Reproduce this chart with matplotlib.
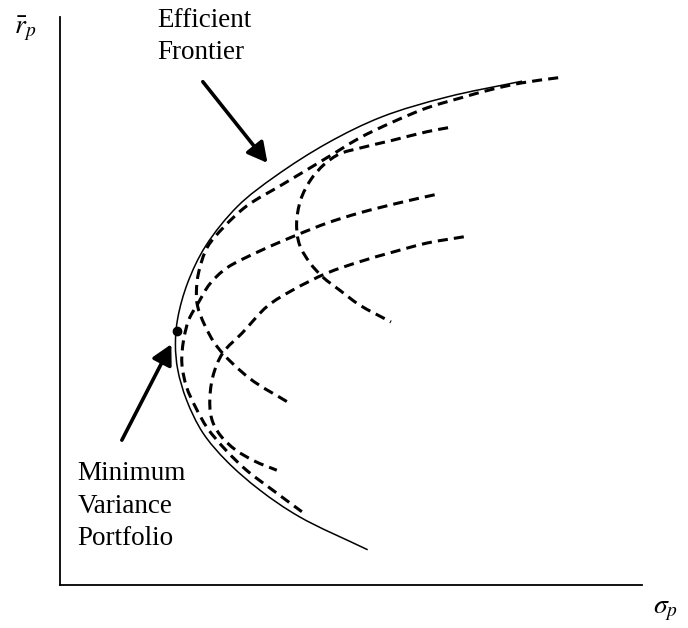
import matplotlib.pyplot as plt
import numpy as np
from matplotlib.path import Path
from matplotlib.patches import PathPatch

plt.rcParams['font.family'] = ['Liberation Serif', 'DejaVu Serif']
plt.rcParams['mathtext.fontset'] = 'stix'

# efficient frontier (solid): risk sigma_p, expected return r_p
frontier_sigma = [7.94, 6.65, 5.53, 4.60, 3.71, 3.06, 2.51, 2.20, 2.03, 1.99,
                  2.03, 2.18, 2.46, 2.87, 3.44, 4.12, 5.29]
frontier_ret = [8.87, 8.59, 8.24, 7.78, 7.20, 6.67, 5.97, 5.32, 4.70, 4.23,
                3.79, 3.26, 2.68, 2.18, 1.67, 1.20, 0.62]

# minimum variance portfolio
mvp_sigma = 2.01
mvp_ret = 4.47

# frontiers of smaller asset sets (dashed)
set_a_sigma = [8.56, 7.94, 7.44, 6.87, 6.31, 5.72, 5.15, 4.78, 4.33, 3.81,
               3.21, 2.82, 2.54, 2.39, 2.35, 2.37, 2.49, 2.71, 3.26, 3.95]
set_a_ret = [8.93, 8.84, 8.73, 8.57, 8.40, 8.15, 7.87, 7.64, 7.36, 7.04,
             6.67, 6.30, 5.95, 5.51, 5.16, 4.91, 4.58, 4.19, 3.64, 3.20]

set_b_sigma = [6.67, 6.31, 5.72, 5.15, 4.81, 4.55, 4.31, 4.14, 4.07, 4.12,
               4.30, 4.52, 4.81, 5.15, 5.69]
set_b_ret = [8.05, 7.98, 7.83, 7.69, 7.59, 7.41, 7.13, 6.78, 6.36, 5.99,
             5.67, 5.42, 5.19, 4.93, 4.63]

set_c_sigma = [6.44, 5.84, 5.15, 4.59, 4.07, 3.44, 2.87, 2.58, 2.39, 2.22,
               2.13, 2.10, 2.18, 2.34, 2.54, 2.85, 3.21, 3.66, 4.16]
set_c_ret = [6.87, 6.73, 6.55, 6.37, 6.16, 5.88, 5.58, 5.30, 4.98, 4.67,
             4.31, 3.91, 3.49, 3.12, 2.76, 2.38, 2.02, 1.67, 1.29]

set_d_sigma = [6.94, 6.31, 5.72, 5.15, 4.59, 4.00, 3.57, 3.14, 2.80, 2.63,
               2.58, 2.63, 2.78, 3.02, 3.35, 3.73]
set_d_ret = [6.13, 6.02, 5.86, 5.69, 5.49, 5.19, 4.91, 4.44, 4.08, 3.66,
             3.17, 2.87, 2.61, 2.38, 2.18, 2.02]


def smooth_curve(xs, ys, alpha=0.5):
    # centripetal Catmull-Rom through the points, as cubic Bezier segments
    pts = np.column_stack([xs, ys]).astype(float)
    ext = np.vstack([2 * pts[0] - pts[1], pts, 2 * pts[-1] - pts[-2]])
    verts = [pts[0]]
    codes = [Path.MOVETO]
    for i in range(1, len(ext) - 2):
        p0, p1, p2, p3 = ext[i - 1:i + 3]
        d1 = np.linalg.norm(p1 - p0) ** alpha
        d2 = np.linalg.norm(p2 - p1) ** alpha
        d3 = np.linalg.norm(p3 - p2) ** alpha
        b1 = (d1**2 * p2 - d2**2 * p0 + (2 * d1**2 + 3 * d1 * d2 + d2**2) * p1) \
            / (3 * d1 * (d1 + d2))
        b2 = (d3**2 * p1 - d2**2 * p3 + (2 * d3**2 + 3 * d3 * d2 + d2**2) * p2) \
            / (3 * d3 * (d3 + d2))
        verts += [b1, b2, p2]
        codes += [Path.CURVE4] * 3
    return Path(verts, codes)


fig = plt.figure(figsize=(6.88, 6.28), dpi=100)
ax = fig.add_axes([0.0865, 0.0685, 0.8467, 0.9045])
ax.set_xlim(0, 10)
ax.set_ylim(0, 10)
ax.spines[['top', 'right']].set_visible(False)
for s in ['left', 'bottom']:
    ax.spines[s].set_linewidth(1.3)
ax.set_xticks([])
ax.set_yticks([])

ax.add_patch(PathPatch(smooth_curve(frontier_sigma, frontier_ret),
                       fill=False, lw=1.1, color='black'))
for xs, ys in [(set_a_sigma, set_a_ret), (set_b_sigma, set_b_ret),
               (set_c_sigma, set_c_ret), (set_d_sigma, set_d_ret)]:
    ax.add_patch(PathPatch(smooth_curve(xs, ys), fill=False, lw=2.2,
                           color='black', linestyle=(0, (3.3, 2.0)),
                           capstyle='butt'))

ax.plot(mvp_sigma, mvp_ret, 'o', color='black', ms=6, clip_on=False)

arrow = dict(arrowstyle='-|>,head_length=0.6,head_width=0.32', lw=2.6,
             color='black', shrinkA=0, shrinkB=0, mutation_scale=20)
ax.annotate('', xy=(3.57, 7.43), xytext=(2.46, 8.86), arrowprops=arrow,
            annotation_clip=False)
ax.annotate('', xy=(1.92, 4.24), xytext=(1.07, 2.55), arrowprops=arrow,
            annotation_clip=False)

for i, line in enumerate(['Efficient', 'Frontier']):
    ax.text(1.68, 9.82 - i * 0.565, line, fontsize=19.5, va='baseline',
            ha='left', clip_on=False)
for i, line in enumerate(['Minimum', 'Variance', 'Portfolio']):
    ax.text(0.31, 1.85 - i * 0.575, line, fontsize=19.5, va='baseline',
            ha='left', clip_on=False)

fig.text(0.021, 0.947, r'$\bar{r}_p$', fontsize=20, va='baseline', ha='left')
fig.text(0.949, 0.024, r'$\sigma_p$', fontsize=20, va='baseline', ha='left')

fig.savefig('out.png', dpi=100, facecolor='white')
